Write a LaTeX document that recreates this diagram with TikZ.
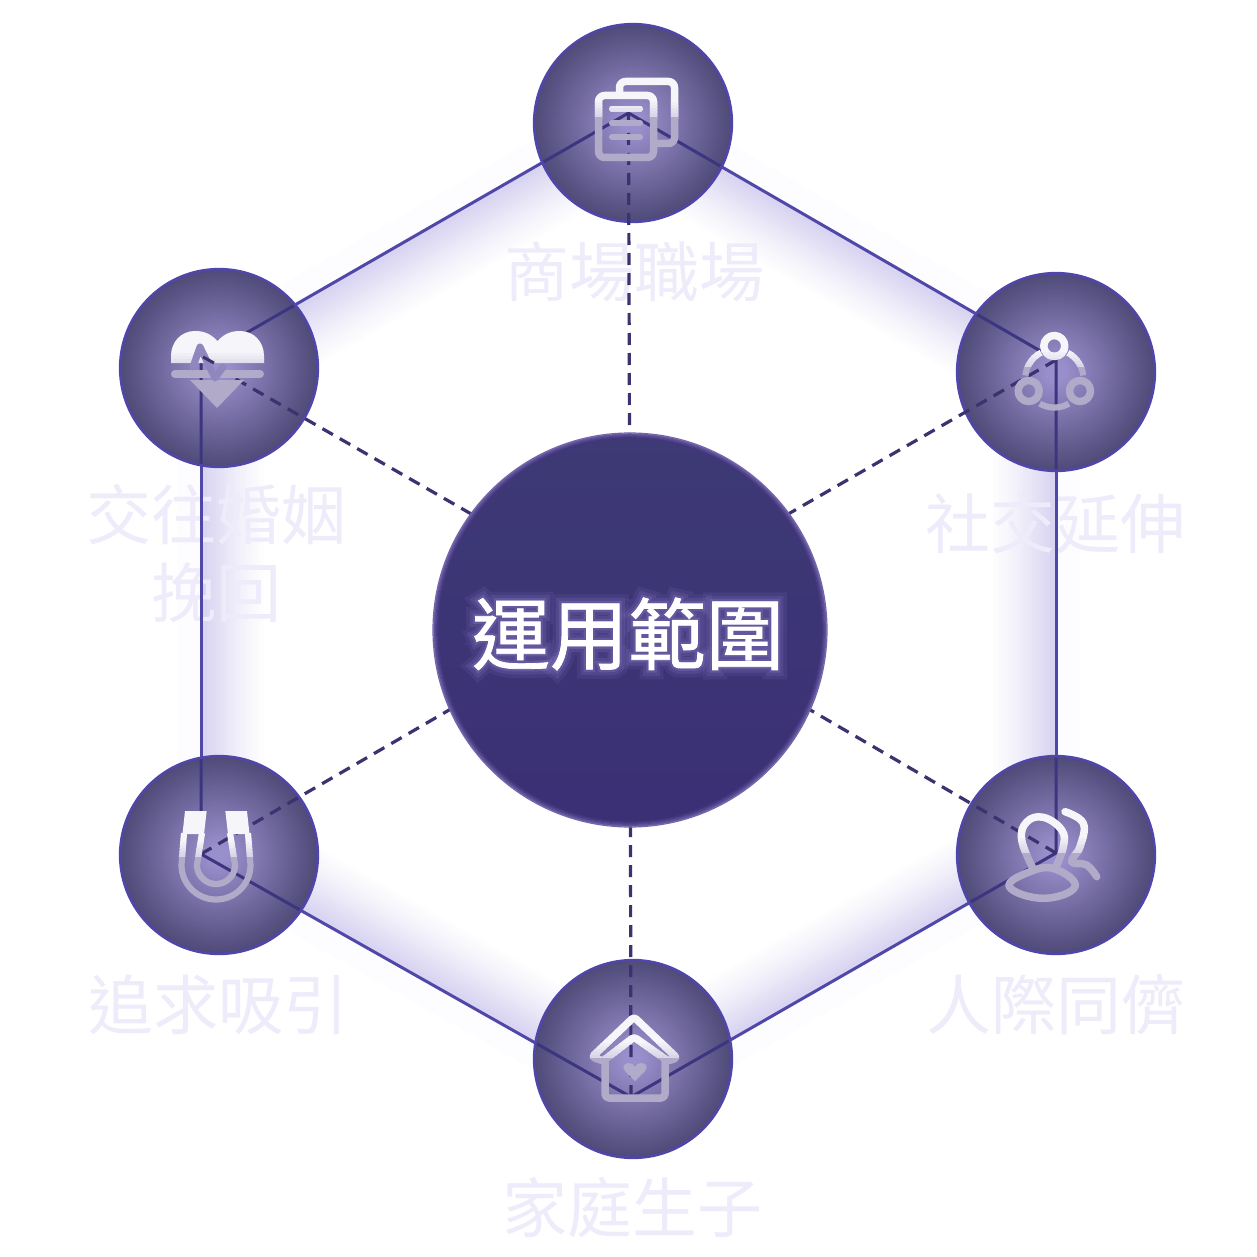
\documentclass[tikz,border=0pt]{standalone}
\usepackage{fontspec}
\usetikzlibrary{calc}
\newfontfamily\cjk{Noto Sans CJK TC}
\newfontfamily\cjktitle[FakeBold=1]{Noto Sans CJK TC}
\newfontfamily\cjkglowA[FakeBold=24]{Noto Sans CJK TC}
\newfontfamily\cjkglowB[FakeBold=15]{Noto Sans CJK TC}
\newfontfamily\cjkglowC[FakeBold=7]{Noto Sans CJK TC}
\definecolor{hexOut}{HTML}{5048A8}
\definecolor{hexIn}{HTML}{3C357F}
\definecolor{spoke}{HTML}{3B3270}
\definecolor{glowA}{HTML}{D9D4F1}
\definecolor{glowB}{HTML}{FDFCFF}
\definecolor{labelc}{HTML}{EEEBFA}
\definecolor{orbLine}{HTML}{4F46A8}
\definecolor{orbEdge}{HTML}{4E4A76}
\definecolor{icTop}{HTML}{F6F5F9}
\definecolor{icMid}{HTML}{DAD6E8}
\definecolor{icLow}{HTML}{B1AAC8}
\definecolor{pulse}{HTML}{8F87BD}
\definecolor{hubTop}{HTML}{3D3A75}
\definecolor{hubBot}{HTML}{3B2F75}
\definecolor{hubR}{HTML}{7768B0}
\definecolor{hubGlow}{HTML}{9A88D8}
\colorlet{ic}{white}
\newcommand{\orbrings}[1]{%
  \foreach \r in {97,95,...,1}{%
    \pgfmathsetmacro{\tv}{max(0,(\r/100-.1)/.9)}%
    \pgfmathsetmacro{\cR}{.60-.29*\tv}%
    \pgfmathsetmacro{\cG}{.56-.27*\tv}%
    \pgfmathsetmacro{\cB}{.80-.33*\tv}%
    \definecolor{rc}{rgb}{\cR,\cG,\cB}%
    \fill[rc] (#1.center) circle (\r);
  }%
}
\newcommand{\twotone}[2]{%
  \begin{scope}\clip (0,0) rectangle (1257,#1-15);\colorlet{ic}{icTop}#2\end{scope}%
  \foreach \i in {0,...,4}{%
    \pgfmathsetmacro{\ya}{#1-15+3*\i}%
    \pgfmathsetmacro{\yb}{\ya+3.4}%
    \pgfmathtruncatemacro{\pc}{20*(\i+1)}%
    \begin{scope}\clip (0,\ya) rectangle (1257,\yb);\colorlet{ic}{icMid!\pc!icTop}#2\end{scope}%
  }%
  \begin{scope}\clip (0,#1) rectangle (1257,1257);\colorlet{ic}{icLow}#2\end{scope}%
}
\newcommand{\glowband}[2]{%
  \fill[glowB] ($(#1)!60pt!(#2)$) -- ($(#2)!60pt!(#1)$)
     -- ($($(#2)!60pt!(#1)$)!24pt!90:(#1)$) -- ($($(#1)!60pt!(#2)$)!24pt!-90:(#2)$) -- cycle;
  \foreach \k in {1,...,20}{%
    \pgfmathsetmacro{\dd}{66-3*\k}%
    \pgfmathtruncatemacro{\pp}{4+96*(\k/20)^1.3}%
    \fill[glowA!\pp!white] ($(#1)!60pt!(#2)$) -- ($(#2)!60pt!(#1)$)
     -- ($($(#2)!60pt!(#1)$)!\dd pt!-90:(#1)$) -- ($($(#1)!60pt!(#2)$)!\dd pt!90:(#2)$) -- cycle;
  }%
}
\tikzset{
  orb/.style={circle,minimum size=197.5pt,inner sep=0pt,outer sep=0pt,draw=orbLine,line width=2.8pt,fill=orbEdge},
  hub/.style={circle,minimum size=392pt,inner sep=0pt,outer sep=0pt,top color=hubTop,bottom color=hubBot},
  lab/.style={text=labelc,font=\cjk\fontsize{65}{78}\selectfont,align=center,inner sep=0pt},
  hexo/.style={draw=hexOut,line width=3pt},
  hexi/.style={draw=hexIn,line width=3pt},
  spk/.style={draw=spoke,line width=3.2pt,dash pattern=on 12pt off 8pt},
  ico/.style={draw=ic,line width=7.5pt,line cap=round,line join=round},
  icon/.style={draw=ic,line width=6.2pt,line cap=round,line join=round},
}
\begin{document}
\begin{tikzpicture}[x=1pt,y=-1pt]
\useasboundingbox (0,0) rectangle (1257,1257);
\fill[white] (0,0) rectangle (1257,1257);
% hexagon vertices and hub centre
\coordinate (vT) at (628.5,113);
\coordinate (vUL) at (201,359);
\coordinate (vLL) at (201,854);
\coordinate (vB) at (631,1097);
\coordinate (vLR) at (1056,853);
\coordinate (vUR) at (1056,360);
\coordinate (hc) at (630,605);
% glow
\glowband{vT}{vUL}
\glowband{vUL}{vLL}
\glowband{vLL}{vB}
\glowband{vB}{vLR}
\glowband{vLR}{vUR}
\glowband{vUR}{vT}
% labels
\node[lab] (lT) at (634,272) {商場職場};
\node[lab] (lUL) at (216,554) {交往婚姻\\挽回};
\node[lab] (lUR) at (1055,524) {社交延伸};
\node[lab] (lLL) at (218,1005) {追求吸引};
\node[lab] (lLR) at (1056,1005) {人際同儕};
\node[lab] (lB) at (632,1208) {家庭生子};
% hexagon
\draw[hexo] (vT) -- (vUL);
\draw[hexo] (vUL) -- (vLL);
\draw[hexo] (vLL) -- (vB);
\draw[hexo] (vB) -- (vLR);
\draw[hexo] (vLR) -- (vUR);
\draw[hexo] (vUR) -- (vT);
% orbs
\node[orb] (oT) at (633,123) {};
\node[orb] (oUL) at (219,368) {};
\node[orb] (oUR) at (1056,372) {};
\node[orb] (oLL) at (219,855) {};
\node[orb] (oLR) at (1056,855) {};
\node[orb] (oB) at (633,1059) {};
\orbrings{oT}
\orbrings{oUL}
\orbrings{oUR}
\orbrings{oLL}
\orbrings{oLR}
\orbrings{oB}
% hexagon seen through the orbs
\foreach \o in {oT,oUL,oUR,oLL,oLR,oB}{%
  \begin{scope}
    \clip (\o.center) circle (97.4);
    \draw[hexi] (vT) -- (vUL) -- (vLL) -- (vB) -- (vLR) -- (vUR) -- cycle;
  \end{scope}
}
% spokes
\draw[spk] (vT) -- (hc);
\draw[spk] (vUL) -- (hc);
\draw[spk] (vUR) -- (hc);
\draw[spk] (vLL) -- (hc);
\draw[spk] (vLR) -- (hc);
\draw[spk] (vB) -- (hc);
% hub
\node[hub] (hub) at (630,630) {};
\foreach \r/\p in {197/95,196/80,195/62,194/44,193/28,192/12}{%
  \draw[line width=1.2pt,draw=hubR!\p!hubBot] (hub.center) circle (\r);
}
% hub title
\node[text=hubGlow,opacity=.10,font=\cjkglowA\fontsize{78}{78}\selectfont,inner sep=0pt] (tg1) at (628,634) {運用範圍};
\node[text=hubGlow,opacity=.16,font=\cjkglowB\fontsize{78}{78}\selectfont,inner sep=0pt] (tg2) at (628,634) {運用範圍};
\node[text=hubGlow,opacity=.24,font=\cjkglowC\fontsize{78}{78}\selectfont,inner sep=0pt] (tg3) at (628,634) {運用範圍};
\node[text=white,font=\cjktitle\fontsize{78}{78}\selectfont,inner sep=0pt] (title) at (628,634) {運用範圍};
% document icon
\twotone{118}{%
  \draw[ico,rounded corners=6pt] (619.5,92) -- (619.5,81.5) -- (674.5,81.5) -- (674.5,143.5) -- (657,143.5);
  \draw[ico,rounded corners=6pt] (598.5,95.5) rectangle (653.5,157.5);
  \draw[icon] (612,108.7) -- (640,108.7);
  \draw[icon] (612,123) -- (640,123);
  \draw[icon] (612,137) -- (640,137);
}
% heart icon
\twotone{368}{%
  \fill[ic] (217.5,341) .. controls (210,333) and (203,331) .. (195,331) .. controls (181,331) and (171,342) .. (171,356) -- (171,363) -- (264,363) -- (264,356) .. controls (264,342) and (254,331) .. (240,331) .. controls (232,331) and (225,333) .. (217.5,341) -- cycle;
  \fill[ic] (190,380) -- (217,408) -- (244,380) -- cycle;
  \draw[ico,line width=8pt] (175,374) -- (260,374);
}
\draw[draw=pulse,line width=7pt,line join=round,line cap=round] (193,367) -- (200,347) -- (215,378) -- (223,367);
\draw[draw=spoke,line width=3pt] (203,357) -- (214,363);
% network icon
\twotone{367}{%
  \draw[ico] (1054.3,346) circle (10.5);
  \draw[ico] (1028.7,391) circle (10.5);
  \draw[ico] (1080,391) circle (10.5);
  \draw[icon,line cap=butt] plot[domain=186:243,samples=16] ({1054.3+29*cos(\x)},{378.5+29*sin(\x)});
  \draw[icon,line cap=butt] plot[domain=298:354,samples=16] ({1054.3+29*cos(\x)},{378.5+29*sin(\x)});
  \draw[icon,line cap=butt] plot[domain=120:60,samples=16] ({1054.3+29*cos(\x)},{378.5+29*sin(\x)});
}
% magnet icon
\twotone{857}{%
  \fill[ic] (185,811) -- (206.7,811) -- (204,834) -- (182.5,834) -- cycle;
  \fill[ic] (247,811) -- (225.3,811) -- (228,834) -- (249.5,834) -- cycle;
  \draw[icon,line cap=butt] (184,833) -- (181.5,865) -- plot[domain=180:0,samples=30] ({216+34.5*cos(\x)},{865+34.5*sin(\x)}) -- (250.5,865) -- (248,833);
  \draw[icon,line cap=butt] (202,833) -- (197,865) -- plot[domain=180:0,samples=30] ({216+19*cos(\x)},{865+19*sin(\x)}) -- (235,865) -- (230,833);
}
% people icon
\twotone{853}{%
  \draw[ico] plot[smooth cycle,tension=.75] coordinates {(1030,871.7) (1009.3,886.7) (1043.3,898.3) (1075,886.7) (1055,869)};
  \draw[ico] plot[smooth,tension=.7] coordinates {(1033.3,869) (1021.7,840) (1026.7,822) (1043.3,817.3) (1061.7,830) (1063.3,846.7) (1055,869)};
  \draw[ico] plot[smooth,tension=.7] coordinates {(1065,811.7) (1083.3,823.3) (1080,846.7) (1071.7,861.7) (1086.7,865) (1096.7,876.7)};
}
% house icon
\twotone{1058}{%
  \draw[ico,rounded corners=3pt] (634,1017) -- (677,1058) -- (668,1061) -- (634,1037) -- (603,1061) -- (592,1057) -- cycle;
  \draw[ico,rounded corners=4pt] (605,1060) -- (605,1098) -- (665,1098) -- (665,1060);
  \fill[ic] (635,1081) -- (625,1071) .. controls (621,1066) and (625,1063) .. (629,1063) .. controls (632,1063) and (634,1065) .. (635,1067) .. controls (636,1065) and (638,1063) .. (641,1063) .. controls (645,1063) and (649,1066) .. (645,1071) -- cycle;
}
\end{tikzpicture}
\end{document}
